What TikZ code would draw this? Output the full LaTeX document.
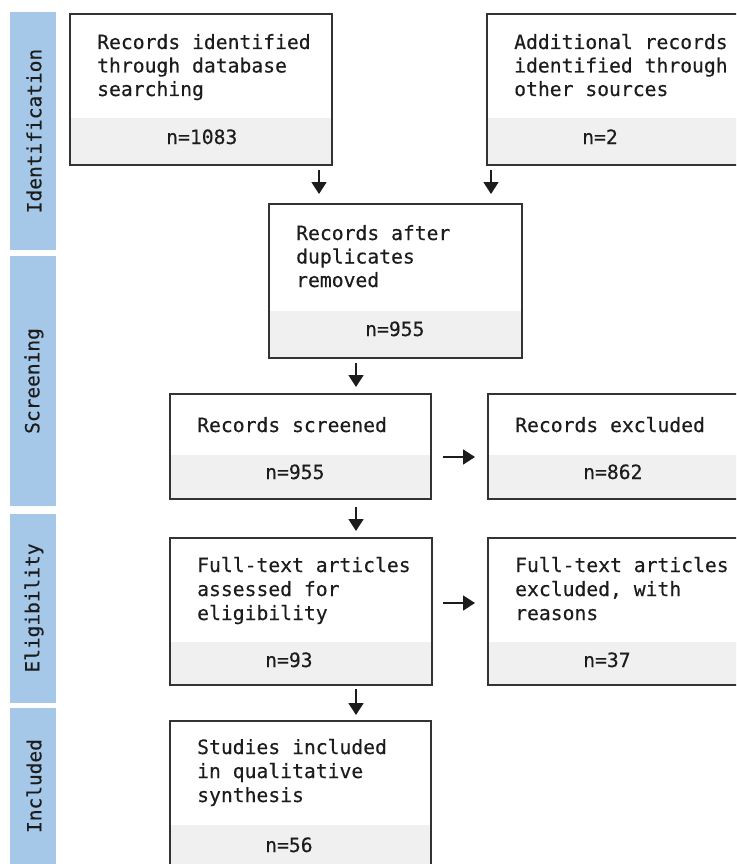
\documentclass[tikz,border=0pt]{standalone}
\usepackage{fontspec}
\setmonofont{DejaVu Sans Mono}[FakeBold=0.35]
\usetikzlibrary{arrows.meta}
\definecolor{band}{HTML}{A5C7E8}
\definecolor{gbar}{HTML}{F0F0F0}
\definecolor{edge}{HTML}{333333}
\definecolor{ink}{HTML}{1C1C1C}
\begin{document}
\begin{tikzpicture}[x=1pt,y=-1pt,
  box/.style={draw=edge, line width=1.8pt, rectangle, inner sep=0pt, anchor=north west},
  txt/.style={anchor=base west, inner sep=0pt, font=\ttfamily\fontsize{19.7}{24}\selectfont, text=ink},
  lbl/.style={rotate=90, inner sep=0pt, font=\ttfamily\fontsize{19.5}{24}\selectfont, text=ink},
  arr/.style={-{Triangle[width=15pt,length=12pt]}, line width=1.7pt, draw=ink}]
\useasboundingbox (0,0) rectangle (736,864);
\clip (0,0) rectangle (736,864);
% side bands
\fill[band] (10,12) rectangle (56,250);
\fill[band] (10,256) rectangle (56,506);
\fill[band] (10,514) rectangle (56,703);
\fill[band] (10,708) rectangle (56,870);
\node[lbl] (lid) at (34,131) {Identification};
\node[lbl] (lsc) at (34,381) {Screening};
\node[lbl] (lel) at (34,608) {Eligibility};
\node[lbl] (lin) at (34,786) {Included};
% gray bars
\fill[gbar] (69,118) rectangle (331,164);
\fill[gbar] (486,118) rectangle (750,164);
\fill[gbar] (268,311) rectangle (521,357);
\fill[gbar] (169,455) rectangle (430,498);
\fill[gbar] (487,455) rectangle (750,498);
\fill[gbar] (169,642) rectangle (431,684);
\fill[gbar] (487,642) rectangle (750,684);
\fill[gbar] (169,825) rectangle (430,880);
% boxes
\node[box, minimum width=262pt, minimum height=151pt] (b1) at (69,13) {};
\node[box, minimum width=264pt, minimum height=151pt] (b2) at (486,13) {};
\node[box, minimum width=253pt, minimum height=154pt] (b3) at (268,203) {};
\node[box, minimum width=261pt, minimum height=105pt] (b4) at (169,393) {};
\node[box, minimum width=263pt, minimum height=105pt] (b5) at (487,393) {};
\node[box, minimum width=262pt, minimum height=147pt] (b6) at (169,537) {};
\node[box, minimum width=263pt, minimum height=147pt] (b7) at (487,537) {};
\node[box, minimum width=261pt, minimum height=160pt] (b8) at (169,720) {};
% texts
\node[txt] (t1a) at (97,49) {Records identified};
\node[txt] (t1b) at (97,72.5) {through database};
\node[txt] (t1c) at (97,96) {searching};
\node[txt] (n1) at (166,144) {n=1083};
\node[txt] (t2a) at (514,49) {Additional records};
\node[txt] (t2b) at (514,72.5) {identified through};
\node[txt] (t2c) at (514,96) {other sources};
\node[txt] (n2) at (582,144) {n=2};
\node[txt] (t3a) at (296,240) {Records after};
\node[txt] (t3b) at (296,263.5) {duplicates};
\node[txt] (t3c) at (296,287) {removed};
\node[txt] (n3) at (365,336) {n=955};
\node[txt] (t4a) at (197,432) {Records screened};
\node[txt] (n4) at (265,479) {n=955};
\node[txt] (t5a) at (515,432) {Records excluded};
\node[txt] (n5) at (583,479) {n=862};
\node[txt] (t6a) at (197,572) {Full-text articles};
\node[txt] (t6b) at (197,596) {assessed for};
\node[txt] (t6c) at (197,620) {eligibility};
\node[txt] (n6) at (265,667) {n=93};
\node[txt] (t7a) at (515,572) {Full-text articles};
\node[txt] (t7b) at (515,596) {excluded, with};
\node[txt] (t7c) at (515,620) {reasons};
\node[txt] (n7) at (583,667) {n=37};
\node[txt] (t8a) at (197,754) {Studies included};
\node[txt] (t8b) at (197,778) {in qualitative};
\node[txt] (t8c) at (197,802) {synthesis};
\node[txt] (n8) at (265,852) {n=56};
% arrows
\coordinate (a1s) at (319,170); \coordinate (a1e) at (319,194);
\coordinate (a2s) at (491,170); \coordinate (a2e) at (491,194);
\coordinate (a3s) at (356,363); \coordinate (a3e) at (356,387);
\coordinate (a4s) at (443,457); \coordinate (a4e) at (475,457);
\coordinate (a5s) at (356,507); \coordinate (a5e) at (356,531);
\coordinate (a6s) at (443,603); \coordinate (a6e) at (475,603);
\coordinate (a7s) at (356,689); \coordinate (a7e) at (356,715);
\draw[arr] (a1s) -- (a1e);
\draw[arr] (a2s) -- (a2e);
\draw[arr] (a3s) -- (a3e);
\draw[arr] (a4s) -- (a4e);
\draw[arr] (a5s) -- (a5e);
\draw[arr] (a6s) -- (a6e);
\draw[arr] (a7s) -- (a7e);
\end{tikzpicture}
\end{document}
